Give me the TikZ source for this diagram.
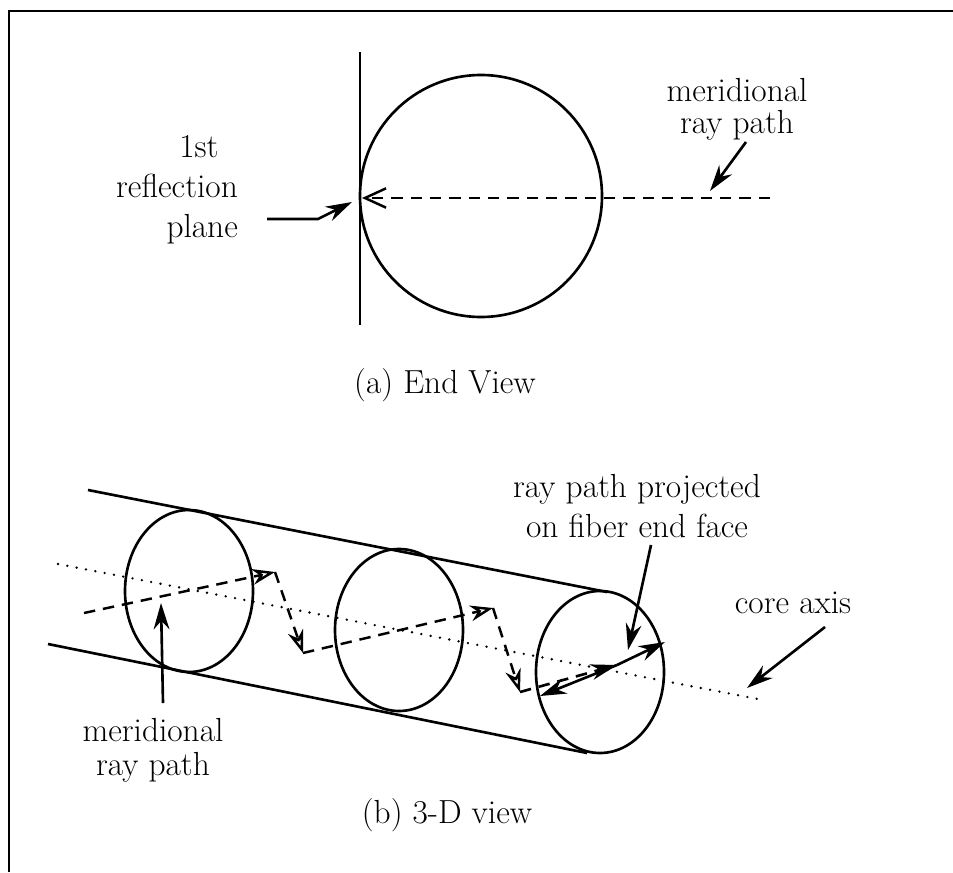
\documentclass[tikz,border=0pt]{standalone}
\usetikzlibrary{arrows.meta}
\tikzset{
	outline/.style={line width=1.5pt},
	rayline/.style={line width=1.4pt, dash pattern=on 6.5pt off 4.5pt},
	axisline/.style={line width=1.5pt, dash pattern=on 0pt off 5.4pt, line cap=round},
	pointer/.style={line width=1.5pt, -{Stealth[length=15pt, width=9pt]}},
	raytip/.style={-{Stealth[open, length=13pt, width=9pt]}},
	textlabel/.style={align=center, font=\fontsize{19}{18}\selectfont, inner sep=0pt, anchor=base}
}
\begin{document}
\begin{tikzpicture}[x=0.02cm, y=-0.02cm]
	\useasboundingbox (0, 0) rectangle (953, 872);
	\draw[line width=1.3pt] (9, 872) -- (9, 11) -- (953, 11);

	% End view
	\draw[outline] (481, 196) circle (121);
	\draw[outline] (360, 52) -- (360, 325);
	\coordinate (rayfar) at (770, 198);
	\coordinate (raynear) at (362, 198);
	\draw[rayline, -{Straight Barb[length=12pt, width=11pt]}] (rayfar) -- (raynear);

	\node[textlabel, align=right] (planelabel) at (177, 237) {1st\hspace*{11pt}\\[4.5pt]reflection\\[4.5pt]plane};
	\coordinate (planestart) at (267, 219);
	\coordinate (planebend) at (318, 219);
	\coordinate (planetip) at (352, 202);
	\draw[pointer] (planestart) -- (planebend) -- (planetip);

	\node[textlabel] (endraylabel) at (737, 133) {meridional\\ray path};
	\coordinate (endraystart) at (746, 142);
	\coordinate (endraytip) at (710, 191);
	\draw[pointer] (endraystart) -- (endraytip);

	\node[textlabel] (endcaption) at (445, 393) {(a) End View};

	% 3-D view
	\draw[outline] (88, 490) -- (607, 592);
	\draw[outline] (48, 644) -- (587, 753);
	\draw[outline] (189, 591) ellipse (64 and 81);
	\draw[outline] (399, 630) ellipse (64 and 81);
	\draw[outline] (600, 672) ellipse (64 and 81);

	\coordinate (axisstart) at (58, 564);
	\coordinate (axisend) at (763, 700);
	\draw[axisline] (axisstart) -- (axisend);

	% Ray zig-zag
	\coordinate (ray0) at (84, 613);
	\coordinate (ray1) at (275, 572);
	\coordinate (ray2) at (303, 653);
	\coordinate (ray3) at (493, 608);
	\coordinate (ray4) at (520, 692);
	\coordinate (ray5) at (617, 665);
	\coordinate (ray6) at (665, 642);
	\coordinate (ray7) at (540, 696);
	\draw[rayline, raytip] (ray0) -- (ray1);
	\draw[rayline, raytip] (ray1) -- (ray2);
	\draw[rayline, raytip] (ray2) -- (ray3);
	\draw[rayline, raytip] (ray3) -- (ray4);
	\draw[rayline, pointer, dash pattern=on 6.5pt off 4.5pt] (ray4) -- (ray5);
	\draw[pointer] (ray5) -- (ray6);
	\draw[pointer] (ray5) -- (ray7);

	\node[textlabel] (projlabel) at (637, 537) {ray path projected\\[4.5pt]on fiber end face};
	\coordinate (projstart) at (651, 545);
	\coordinate (projtip) at (628, 650);
	\draw[pointer] (projstart) -- (projtip);

	\node[textlabel] (corelabel) at (793, 613) {core axis};
	\coordinate (corestart) at (825, 627);
	\coordinate (coretip) at (747, 688);
	\draw[pointer] (corestart) -- (coretip);

	\node[textlabel] (sideraylabel) at (153, 775) {meridional\\[1pt]ray path};
	\coordinate (siderayend) at (163, 703);
	\coordinate (sideraytip) at (161, 603);
	\draw[pointer] (siderayend) -- (sideraytip);

	\node[textlabel] (sidecaption) at (447, 823) {(b) 3-D view};
\end{tikzpicture}
\end{document}
